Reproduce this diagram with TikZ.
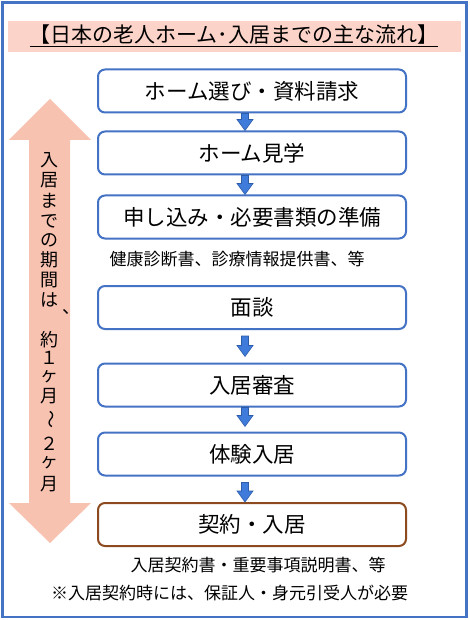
\documentclass[tikz,border=0pt]{standalone}
\usepackage{fontspec}
\setmainfont{Noto Sans CJK JP}
\usepackage{graphicx}
\usetikzlibrary{calc}
\definecolor{frameblue}{HTML}{4472C4}
\definecolor{titlebg}{HTML}{FBD3C8}
\definecolor{pinkarrow}{HTML}{F8C2B1}
\definecolor{flowfill}{HTML}{3F7BDA}
\definecolor{flowedge}{HTML}{2D5CA8}
\definecolor{brownedge}{HTML}{8C4A1E}
\tikzset{
  stepbox/.style={draw=frameblue, line width=2pt, rounded corners=7pt, fill=white,
    minimum width=308pt, minimum height=43pt, inner sep=0pt,
    font=\fontsize{21.5}{24}\selectfont},
  lastbox/.style={stepbox, draw=brownedge},
  flowarr/.style={fill=flowfill, draw=flowedge, line width=0.6pt},
  note/.style={font=\fontsize{17}{20}\selectfont, inner sep=0pt},
  vtext/.style={font=\fontsize{18}{19}\selectfont, inner sep=0pt},
}
\newcommand\flowarrow[2]{%
  \draw[flowarr] let \p1=(#1), \p2=(#2) in
   (\x1-3.5pt,\y1) -- (\x1+3.5pt,\y1) -- (\x1+3.5pt,\y2+11pt) -- (\x1+8pt,\y2+11pt)
   -- (\x1,\y2) -- (\x1-8pt,\y2+11pt) -- (\x1-3.5pt,\y2+11pt) -- cycle;}
\begin{document}
\begin{tikzpicture}[x=1pt,y=-1pt]
\useasboundingbox (0,0) rectangle (469,620);
\fill[white] (0,0) rectangle (469,620);
\draw[frameblue, line width=2.5pt] (2.5,2.5) rectangle (466.5,617);
\fill[titlebg] (8,21) rectangle (461,52);
\node[font=\fontsize{21}{24}\selectfont, inner sep=0pt] (title) at (234,36)
  {\underline{【日本の老人ホーム･入居までの主な流れ】}};
% pink double arrow
\fill[pinkarrow] (50,99) -- (91,140) -- (70,140) -- (70,503) -- (91,503) -- (50,543)
  -- (9,503) -- (29,503) -- (29,140) -- (9,140) -- cycle;
\foreach \c/\yy in {入/160, 居/180, ま/201, で/221, の/240, 期/260, 間/280, は/300,
  約/340, １/358, ヶ/377, 月/396, ２/444, ヶ/463, 月/484}
  \node[vtext] (v\yy) at (49,\yy) {\c};
\node[vtext] (vcomma) at (71,312) {、};
\node[vtext, rotate=-90] (vwave) at (49,419) {～};
% boxes
\node[stepbox] (b1) at (252,91) {ホーム選び・資料請求};
\node[stepbox] (b2) at (252,153) {ホーム見学};
\node[stepbox] (b3) at (252,217) {申し込み・必要書類の準備};
\node[stepbox] (b4) at (252,307.5) {面談};
\node[stepbox] (b5) at (252,385) {入居審査};
\node[stepbox] (b6) at (252,454) {体験入居};
\node[lastbox] (b7) at (252,524.5) {契約・入居};
% notes
\node[note] (n1) at (237,259) {健康診断書、診療情報提供書、等};
\node[note] (n2) at (258,565) {入居契約書・重要事項説明書、等};
\node[note] (n3) at (229.5,593) {※入居契約時には、保証人・身元引受人が必要};
% arrow end points
\coordinate (a1s) at ([xshift=-7pt]b1.south);
\coordinate (a1e) at ([xshift=-7pt]b2.north);
\coordinate (a2s) at ([xshift=-7pt]b2.south);
\coordinate (a2e) at ([xshift=-7pt]b3.north);
\coordinate (a4s) at ([xshift=-7pt,yshift=-6pt]b4.south);
\coordinate (a4e) at ([xshift=-7pt,yshift=6pt]b5.north);
\coordinate (a5s) at ([xshift=-7pt]b5.south);
\coordinate (a5e) at ([xshift=-7pt,yshift=5pt]b6.north);
\coordinate (a6s) at ([xshift=-7pt,yshift=-6pt]b6.south);
\coordinate (a6e) at ([xshift=-7pt]b7.north);
\flowarrow{a1s}{a1e}
\flowarrow{a2s}{a2e}
\flowarrow{a4s}{a4e}
\flowarrow{a5s}{a5e}
\flowarrow{a6s}{a6e}
\end{tikzpicture}
\end{document}
